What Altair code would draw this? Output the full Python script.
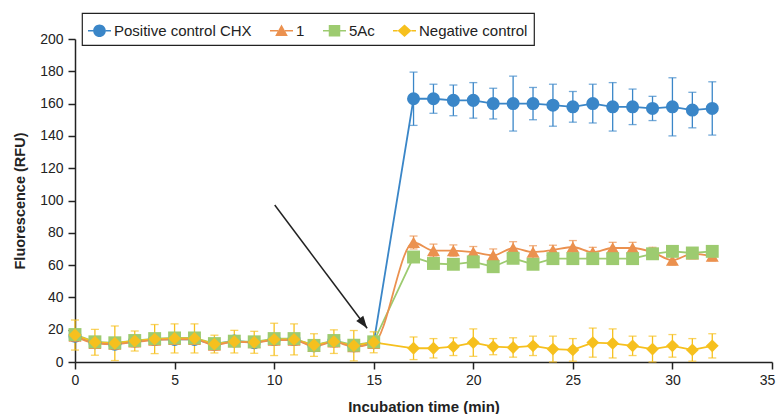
import altair as alt
import pandas as pd

series_names = ["Positive control CHX", "1", "5Ac", "Negative control"]
colors = ["#3a86c8", "#eb914f", "#9dcb70", "#f6c01e"]
marker_shapes = ["circle", "triangle-up", "square", "diamond"]
marker_sizes = [170, 165, 200, 225]

time_min = [0, 1, 2, 3, 4, 5, 6, 7, 8, 9, 10, 11, 12, 13, 14, 15,
            17, 18, 19, 20, 21, 22, 23, 24, 25, 26, 27, 28, 29, 30, 31, 32]

chx_values = [16, 12, 11, 13, 14, 14, 14, 11, 13, 12, 14, 14, 10, 13, 10, 12,
              163, 163, 162, 162, 160, 160, 160, 159, 158, 160, 158, 158, 157, 158, 156, 157]
chx_err = [3, 3, 3, 3, 3, 3, 3, 3, 3, 3, 3, 3, 3, 3, 3, 3,
           16.5, 9, 9.5, 11, 9.5, 17, 10, 13, 9.5, 12, 15, 11, 7.5, 18, 11, 16.5]

cmp1_values = [16, 11.6, 11, 12.4, 13.6, 14, 14, 10.5, 12.6, 12, 13.6, 13.6, 9.6, 12.4, 9.5, 11.6,
               74, 69, 69, 68, 66, 70.5, 68, 69.3, 71.2, 68, 70.6, 70.6, 68, 63, 67, 65.6]
cmp1_err = [3, 3, 3, 3, 3, 3, 3, 3, 3, 3, 3, 3, 3, 3, 3, 3,
            4, 4, 3.5, 3.5, 4, 4, 4, 3, 4, 3, 3.5, 3.5, 3, 3, 3, 3]

ac5_values = [17, 12.5, 11.9, 13.3, 14.5, 14.9, 14.9, 11.4, 12.9, 12.5, 14.5, 14.5, 10.3, 13.3, 10.4, 12.5,
              65, 61, 60.5, 62, 59, 64.2, 60.5, 64, 64, 64, 64, 64, 67, 68.5, 67.5, 68.5]
ac5_err = [3, 3, 3, 3, 3, 3, 3, 3, 3, 3, 3, 3, 3, 3, 3, 3,
           3, 3, 3, 3, 3, 3, 3, 3, 3, 3, 3, 3, 3, 3, 3, 3]

neg_values = [16.7, 12.2, 11.6, 13, 14.2, 14.6, 14.6, 11.1, 12.6, 12.2, 14, 14, 10.5, 12.6, 10.1, 12.2,
              8.5, 8.5, 9.5, 12, 9.5, 9, 10, 8, 7.5, 12, 11.5, 10, 8, 10, 7.5, 10]
neg_err = [9.3, 8, 10.7, 6.2, 9, 9, 9, 5.5, 7, 6.8, 10, 9.6, 7, 7.3, 9.4, 6.5,
           7, 6, 5.5, 8.5, 5, 6, 6, 8, 7, 9, 9, 6, 8, 7, 7, 7.5]

x_ticks = [0, 5, 10, 15, 20, 25, 30, 35]
y_ticks = [0, 20, 40, 60, 80, 100, 120, 140, 160, 180, 200]

# arrow annotation (data coordinates): start and tip
arrow_time = [10.03, 14.67]
arrow_value = [97.2, 20.9]

rows = []
for i, (name, vals, errs) in enumerate(zip(series_names,
                                           [chx_values, cmp1_values, ac5_values, neg_values],
                                           [chx_err, cmp1_err, ac5_err, neg_err])):
    for t, v, e in zip(time_min, vals, errs):
        rows.append({"series": name, "order": i, "time": t, "value": v, "lo": v - e, "hi": v + e})
df = pd.DataFrame(rows)

legend_paths = [
    "M-1,-0.07H-0.55V0.07H-1Z M0.55,-0.07H1V0.07H0.55Z M0.55,0A0.55,0.55 0 1,1 -0.55,0A0.55,0.55 0 1,1 0.55,0Z",
    "M-1,-0.07H-0.3V0.07H-1Z M0.3,-0.07H1V0.07H0.3Z M0,-0.55L0.55,0.45L-0.55,0.45Z",
    "M-1,-0.07H-0.5V0.07H-1Z M0.5,-0.07H1V0.07H0.5Z M-0.5,-0.5H0.5V0.5H-0.5Z",
    "M-1,-0.07H-0.6V0.07H-1Z M0.6,-0.07H1V0.07H0.6Z M0,-0.55L0.6,0L0,0.55L-0.6,0Z",
]
arrow_head_path = "M0,0L0.36,1L-0.36,1Z"

xscale = alt.Scale(domain=[0, 35], nice=False)
yscale = alt.Scale(domain=[0, 200], nice=False)
xaxis = alt.Axis(values=x_ticks, title="Incubation time (min)", labelFontSize=14,
                 titleFontSize=15, titleFontWeight="bold", titlePadding=12, labelFlush=False,
                 labelPadding=4,
                 labelOffset={"condition": {"test": "datum.value == 35", "value": -5}, "value": 0})
yaxis = alt.Axis(values=y_ticks, title="Fluorescence (RFU)", labelFontSize=14,
                 titleFontSize=14.5, titleFontWeight="bold", titlePadding=12, labelPadding=5)


def X(field="time"):
    return alt.X(f"{field}:Q", scale=xscale, axis=xaxis)


def Y(field="value"):
    return alt.Y(f"{field}:Q", scale=yscale, axis=yaxis)


def C(legend=None):
    return alt.Color("series:N", scale=alt.Scale(domain=series_names, range=colors), legend=legend)


base = alt.Chart(df)

lines = base.transform_filter(alt.datum.series != "1").mark_line(strokeWidth=1.8).encode(
    x=X(), y=Y(), color=C(), detail="series:N")
line_orange = base.transform_filter(alt.datum.series == "1").mark_line(
    strokeWidth=1.8, interpolate="monotone").encode(x=X(), y=Y(), color=C())

err_rules = base.mark_rule(strokeWidth=1.3).encode(x=X(), y=Y("lo"), y2="hi:Q", color=C())
cap_hi = base.mark_tick(orient="horizontal", size=8, thickness=1.3).encode(x=X(), y=Y("hi"), color=C())
cap_lo = base.mark_tick(orient="horizontal", size=8, thickness=1.3).encode(x=X(), y=Y("lo"), color=C())

points = base.mark_point(filled=True, opacity=1).encode(
    x=X(), y=Y(), color=C(),
    shape=alt.Shape("series:N", scale=alt.Scale(domain=series_names, range=marker_shapes), legend=None),
    size=alt.Size("series:N", scale=alt.Scale(domain=series_names, range=marker_sizes), legend=None),
    order=alt.Order("order:Q"),
)

leg = alt.Legend(title=None, orient="none", legendX=7, legendY=-26, direction="horizontal",
                 symbolOpacity=1, symbolSize=529, symbolStrokeWidth=0)
legend_layer = base.mark_point(filled=True, opacity=0).encode(
    x=X(), y=Y(), color=C(leg),
    shape=alt.Shape("series:N", scale=alt.Scale(domain=series_names, range=legend_paths), legend=leg),
)

arrow_df = pd.DataFrame({"time": [arrow_time[0]], "value": [arrow_value[0]],
                         "time2": [arrow_time[1]], "value2": [arrow_value[1]]})
arrow_line = alt.Chart(arrow_df).mark_rule(color="#222222", strokeWidth=1.5).encode(
    x=X(), y=Y(), x2="time2:Q", y2="value2:Q")
tip_df = pd.DataFrame({"time": [arrow_time[1]], "value": [arrow_value[1]]})
arrow_head = alt.Chart(tip_df).mark_point(shape=arrow_head_path, angle=143, size=600, filled=True,
                                          color="#222222", opacity=1).encode(x=X(), y=Y())

chart = alt.layer(
    lines, line_orange, err_rules, cap_hi, cap_lo, points, legend_layer, arrow_line, arrow_head
).resolve_scale(
    color="independent", shape="independent", size="independent"
).properties(
    width=697, height=323,
    autosize=alt.AutoSizeParams(type="none"),
    padding={"left": 67, "top": 31, "right": 4, "bottom": 52},
    background="white",
).configure_axis(
    domainColor="#222222", domainWidth=1.5, tickColor="#222222", tickWidth=1.5, tickSize=7,
    labelColor="#222222", titleColor="#222222", grid=False,
    labelFont="Liberation Sans", titleFont="Liberation Sans",
).configure_view(stroke=None).configure_legend(
    strokeColor="#222222", strokeWidth=1.2, padding=6, symbolSize=529,
    labelFont="Liberation Sans", labelFontSize=15, labelColor="#222222",
    labelOffset=3, columnPadding=18, symbolStrokeWidth=0, fillColor="white",
)

chart.save("out.html", embed_options={"renderer": "svg", "actions": False})
